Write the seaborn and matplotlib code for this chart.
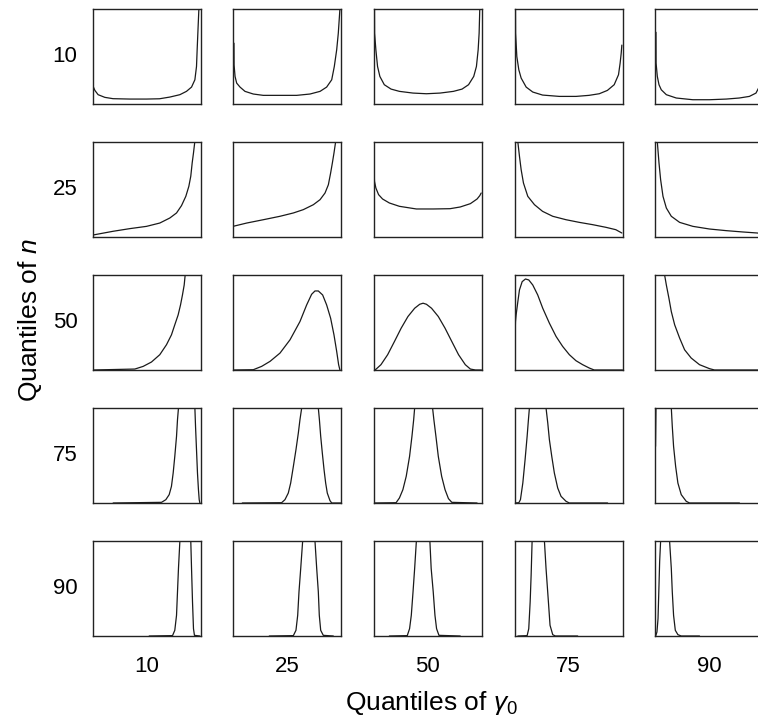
import matplotlib
matplotlib.use("Agg")
import matplotlib.pyplot as plt
import seaborn as sns
import pandas as pd

# ---------------- data ----------------
n_quantiles = ["10", "25", "50", "75", "90"]        # rows
g_quantiles = ["10", "25", "50", "75", "90"]        # columns
x_label = "Quantiles of $\\gamma_0$"
y_label = "Quantiles of $n$"

# row n=10
n10_g10_x = [0.006, 0.008, 0.022, 0.052, 0.114, 0.19, 0.346, 0.5, 0.62, 0.716, 0.809, 0.87, 0.917, 0.948, 0.963, 0.969, 0.978, 0.985]
n10_g10_y = [0.262, 0.18, 0.143, 0.098, 0.07, 0.056, 0.052, 0.052, 0.055, 0.073, 0.098, 0.133, 0.178, 0.255, 0.395, 0.57, 0.815, 1.0]
n10_g25_x = [0.009, 0.01, 0.019, 0.034, 0.065, 0.111, 0.188, 0.28, 0.435, 0.59, 0.713, 0.806, 0.867, 0.914, 0.938, 0.96, 0.975, 0.99]
n10_g25_y = [0.64, 0.41, 0.29, 0.22, 0.178, 0.133, 0.105, 0.091, 0.091, 0.091, 0.105, 0.133, 0.178, 0.255, 0.395, 0.57, 0.745, 1.0]
n10_g50_x = [0.009, 0.01, 0.022, 0.0375, 0.059, 0.1, 0.1625, 0.24, 0.366, 0.49, 0.616, 0.74, 0.82, 0.88, 0.928, 0.953, 0.969, 0.978, 0.984]
n10_g50_y = [1.0, 0.745, 0.57, 0.395, 0.29, 0.203, 0.157, 0.133, 0.115, 0.108, 0.115, 0.133, 0.157, 0.203, 0.29, 0.395, 0.57, 0.745, 1.0]
n10_g75_x = [0.009, 0.01, 0.0215, 0.04, 0.0615, 0.108, 0.169, 0.26, 0.415, 0.57, 0.69, 0.785, 0.86, 0.923, 0.963, 0.978, 0.988, 0.994]
n10_g75_y = [1.0, 0.745, 0.5, 0.36, 0.273, 0.178, 0.126, 0.094, 0.08, 0.08, 0.091, 0.108, 0.143, 0.203, 0.308, 0.43, 0.535, 0.62]
n10_g90_x = [0.009, 0.01, 0.0215, 0.037, 0.058, 0.105, 0.197, 0.35, 0.505, 0.66, 0.78, 0.874, 0.935, 0.96, 0.98, 0.99]
n10_g90_y = [0.755, 0.43, 0.29, 0.203, 0.15, 0.098, 0.063, 0.045, 0.045, 0.052, 0.063, 0.08, 0.115, 0.17, 0.3, 0.45]

# row n=25
n25_g10_x = [0.0, 0.19, 0.345, 0.5, 0.623, 0.716, 0.778, 0.824, 0.864, 0.892, 0.91, 0.923, 0.935, 0.947]
n25_g10_y = [0.02, 0.06, 0.088, 0.112, 0.147, 0.2, 0.253, 0.33, 0.428, 0.533, 0.64, 0.78, 0.884, 1.0]
n25_g25_x = [0.0, 0.127, 0.281, 0.435, 0.559, 0.651, 0.744, 0.806, 0.852, 0.883, 0.904, 0.92, 0.935, 0.95]
n25_g25_y = [0.112, 0.147, 0.182, 0.218, 0.253, 0.288, 0.34, 0.393, 0.463, 0.55, 0.674, 0.779, 0.884, 1.0]
n25_g50_x = [0.006, 0.009, 0.022, 0.047, 0.084, 0.147, 0.24, 0.397, 0.553, 0.709, 0.803, 0.897, 0.959, 0.984, 0.997]
n25_g50_y = [0.674, 0.586, 0.516, 0.446, 0.4, 0.358, 0.323, 0.295, 0.295, 0.298, 0.316, 0.351, 0.4, 0.435, 0.463]
n25_g75_x = [0.031, 0.046, 0.0615, 0.083, 0.123, 0.185, 0.26, 0.354, 0.477, 0.6, 0.723, 0.846, 0.938, 0.994]
n25_g75_y = [1.0, 0.849, 0.709, 0.568, 0.428, 0.34, 0.27, 0.218, 0.182, 0.154, 0.13, 0.102, 0.077, 0.042]
n25_g90_x = [0.0215, 0.037, 0.052, 0.074, 0.105, 0.151, 0.228, 0.351, 0.505, 0.658, 0.812, 0.948, 1.0]
n25_g90_y = [1.0, 0.779, 0.604, 0.428, 0.305, 0.218, 0.154, 0.112, 0.084, 0.067, 0.053, 0.042, 0.03]

# row n=50
n50_g10_x = [0.0, 0.392, 0.469, 0.546, 0.623, 0.685, 0.731, 0.762, 0.793, 0.815, 0.833, 0.849, 0.858]
n50_g10_y = [0.0, 0.01, 0.038, 0.084, 0.161, 0.266, 0.37, 0.476, 0.58, 0.685, 0.79, 0.895, 1.0]
n50_g25_x = [0.0, 0.188, 0.265, 0.343, 0.435, 0.528, 0.62, 0.682, 0.728, 0.759, 0.79, 0.83, 0.867, 0.904, 0.935, 0.96, 0.978, 0.99]
n50_g25_y = [0.0, 0.003, 0.038, 0.091, 0.178, 0.318, 0.51, 0.685, 0.797, 0.832, 0.832, 0.79, 0.685, 0.545, 0.37, 0.196, 0.056, 0.0]
n50_g50_x = [0.0, 0.022, 0.069, 0.131, 0.194, 0.256, 0.319, 0.381, 0.428, 0.459, 0.49, 0.5375, 0.6, 0.6625, 0.725, 0.7875, 0.85, 0.897, 0.944, 1.0]
n50_g50_y = [0.0, 0.007, 0.056, 0.161, 0.3, 0.44, 0.563, 0.65, 0.692, 0.703, 0.692, 0.65, 0.563, 0.44, 0.3, 0.161, 0.056, 0.01, 0.0, 0.0]
n50_g75_x = [0.006, 0.009, 0.015, 0.031, 0.046, 0.071, 0.1015, 0.132, 0.169, 0.215, 0.2615, 0.323, 0.385, 0.446, 0.508, 0.569, 0.631, 0.692, 0.738, 1.0]
n50_g75_y = [0.388, 0.51, 0.58, 0.72, 0.843, 0.93, 0.958, 0.948, 0.895, 0.79, 0.65, 0.493, 0.353, 0.248, 0.161, 0.098, 0.056, 0.021, 0.0, 0.0]
n50_g90_x = [0.089, 0.105, 0.129, 0.151, 0.182, 0.228, 0.274, 0.335, 0.412, 0.505, 0.551, 1.0]
n50_g90_y = [1.0, 0.895, 0.755, 0.615, 0.476, 0.336, 0.213, 0.126, 0.056, 0.014, 0.0, 0.0]

# row n=75
n75_g10_x = [0.191, 0.639, 0.679, 0.71, 0.731, 0.747, 0.762, 0.778, 0.787, 0.796, 0.87, 0.948, 0.954, 0.963, 0.972, 0.981, 0.988, 0.994]
n75_g10_y = [0.0, 0.007, 0.035, 0.088, 0.175, 0.316, 0.491, 0.702, 0.877, 1.0, 2.5, 1.0, 0.807, 0.561, 0.316, 0.14, 0.035, 0.0]
n75_g25_x = [0.086, 0.45, 0.481, 0.512, 0.534, 0.559, 0.583, 0.605, 0.62, 0.636, 0.713, 0.79, 0.8, 0.812, 0.827, 0.843, 0.858, 0.873, 0.898, 0.914, 1.0]
n75_g25_y = [0.0, 0.003, 0.035, 0.105, 0.21, 0.386, 0.561, 0.737, 0.877, 1.0, 2.5, 1.0, 0.877, 0.702, 0.526, 0.351, 0.21, 0.105, 0.025, 0.0, 0.0]
n75_g50_x = [0.0, 0.209, 0.24, 0.272, 0.303, 0.334, 0.356, 0.372, 0.381, 0.464, 0.547, 0.559, 0.578, 0.6, 0.631, 0.6625, 0.694, 0.725, 0.959]
n75_g50_y = [0.0, 0.003, 0.053, 0.14, 0.281, 0.491, 0.702, 0.877, 1.0, 2.5, 1.0, 0.877, 0.702, 0.491, 0.281, 0.14, 0.046, 0.007, 0.0]
n75_g75_x = [0.0, 0.04, 0.055, 0.077, 0.098, 0.117, 0.129, 0.138, 0.215, 0.292, 0.308, 0.323, 0.345, 0.369, 0.4, 0.431, 0.477, 0.508, 0.862]
n75_g75_y = [0.0, 0.003, 0.035, 0.21, 0.456, 0.702, 0.877, 1.0, 2.5, 1.0, 0.842, 0.667, 0.491, 0.316, 0.158, 0.07, 0.018, 0.0, 0.0]
n75_g90_x = [0.005, 0.009, 0.08, 0.151, 0.16, 0.172, 0.191, 0.212, 0.243, 0.289, 0.32, 0.782]
n75_g90_y = [0.596, 1.0, 2.5, 1.0, 0.807, 0.596, 0.386, 0.21, 0.088, 0.018, 0.0, 0.0]

# row n=90
n90_g10_x = [0.525, 0.741, 0.762, 0.778, 0.787, 0.796, 0.809, 0.86, 0.91, 0.917, 0.926, 0.935, 0.944, 0.994]
n90_g10_y = [0.0, 0.004, 0.06, 0.218, 0.465, 0.711, 1.0, 2.5, 1.0, 0.711, 0.359, 0.077, 0.007, 0.0]
n90_g25_x = [0.336, 0.559, 0.583, 0.599, 0.611, 0.627, 0.645, 0.702, 0.759, 0.775, 0.79, 0.799, 0.812, 0.836, 0.929]
n90_g25_y = [0.0, 0.004, 0.06, 0.218, 0.465, 0.711, 1.0, 2.5, 1.0, 0.711, 0.465, 0.218, 0.06, 0.007, 0.0]
n90_g50_x = [0.147, 0.3125, 0.334, 0.35, 0.366, 0.381, 0.397, 0.46, 0.522, 0.534, 0.553, 0.569, 0.584, 0.606, 0.803]
n90_g50_y = [0.0, 0.004, 0.077, 0.218, 0.465, 0.711, 1.0, 2.5, 1.0, 0.711, 0.465, 0.218, 0.077, 0.007, 0.0]
n90_g75_x = [0.031, 0.117, 0.132, 0.145, 0.154, 0.163, 0.22, 0.277, 0.292, 0.314, 0.329, 0.354, 0.378, 0.585]
n90_g75_y = [0.0, 0.004, 0.077, 0.359, 0.641, 1.0, 2.5, 1.0, 0.711, 0.359, 0.113, 0.014, 0.0, 0.0]
n90_g90_x = [0.006, 0.018, 0.028, 0.037, 0.043, 0.052, 0.094, 0.135, 0.151, 0.16, 0.172, 0.188, 0.212, 0.243, 0.412]
n90_g90_y = [0.0, 0.042, 0.183, 0.535, 0.782, 1.0, 2.5, 1.0, 0.711, 0.465, 0.218, 0.06, 0.014, 0.0, 0.0]

# ---------------- assemble ----------------
panels = {
    ("10", "10"): (n10_g10_x, n10_g10_y), ("10", "25"): (n10_g25_x, n10_g25_y),
    ("10", "50"): (n10_g50_x, n10_g50_y), ("10", "75"): (n10_g75_x, n10_g75_y),
    ("10", "90"): (n10_g90_x, n10_g90_y),
    ("25", "10"): (n25_g10_x, n25_g10_y), ("25", "25"): (n25_g25_x, n25_g25_y),
    ("25", "50"): (n25_g50_x, n25_g50_y), ("25", "75"): (n25_g75_x, n25_g75_y),
    ("25", "90"): (n25_g90_x, n25_g90_y),
    ("50", "10"): (n50_g10_x, n50_g10_y), ("50", "25"): (n50_g25_x, n50_g25_y),
    ("50", "50"): (n50_g50_x, n50_g50_y), ("50", "75"): (n50_g75_x, n50_g75_y),
    ("50", "90"): (n50_g90_x, n50_g90_y),
    ("75", "10"): (n75_g10_x, n75_g10_y), ("75", "25"): (n75_g25_x, n75_g25_y),
    ("75", "50"): (n75_g50_x, n75_g50_y), ("75", "75"): (n75_g75_x, n75_g75_y),
    ("75", "90"): (n75_g90_x, n75_g90_y),
    ("90", "10"): (n90_g10_x, n90_g10_y), ("90", "25"): (n90_g25_x, n90_g25_y),
    ("90", "50"): (n90_g50_x, n90_g50_y), ("90", "75"): (n90_g75_x, n90_g75_y),
    ("90", "90"): (n90_g90_x, n90_g90_y),
}

sns.set_style("white")
plt.rcParams["font.family"] = ["Liberation Sans", "DejaVu Sans"]
plt.rcParams["text.color"] = "black"
plt.rcParams["mathtext.fontset"] = "custom"
plt.rcParams["mathtext.rm"] = "Liberation Sans"
plt.rcParams["mathtext.it"] = "Liberation Sans:italic"

W, H = 758, 722
fig = plt.figure(figsize=(W / 100, H / 100), dpi=100)

col_left = [92.5, 233, 373.5, 514.5, 655]
row_top = [9, 142, 275, 408, 541]
pw, ph = 108, 95

for i, nq in enumerate(n_quantiles):
    for j, gq in enumerate(g_quantiles):
        ax = fig.add_axes([col_left[j] / W, 1 - (row_top[i] + ph) / H, pw / W, ph / H])
        xs, ys = panels[(nq, gq)]
        df = pd.DataFrame({"x": xs, "y": ys})
        sns.lineplot(data=df, x="x", y="y", ax=ax, sort=False, estimator=None,
                     color="#1a1a1a", linewidth=0.9)
        ax.set_xlim(0, 1)
        ax.set_ylim(0, 1)
        ax.set_xticks([])
        ax.set_yticks([])
        ax.set_xlabel("")
        ax.set_ylabel("")
        for sp in ax.spines.values():
            sp.set_visible(True)
            sp.set_color("#222222")
            sp.set_linewidth(1.0)
        if j == 0:
            fig.text(65 / W, 1 - (row_top[i] + ph / 2) / H, nq, ha="center", va="center",
                     fontsize=16, color="black")
        if i == len(n_quantiles) - 1:
            fig.text((col_left[j] + pw / 2) / W, 1 - 666 / H, gq, ha="center", va="center",
                     fontsize=16, color="black")

fig.text(431 / W, 1 - 703 / H, x_label, ha="center", va="center", fontsize=19, color="black")
fig.text(30 / W, 1 - 320 / H, y_label, ha="center", va="center", fontsize=19, rotation=90,
         color="black")

fig.savefig("out.png", dpi=100)
